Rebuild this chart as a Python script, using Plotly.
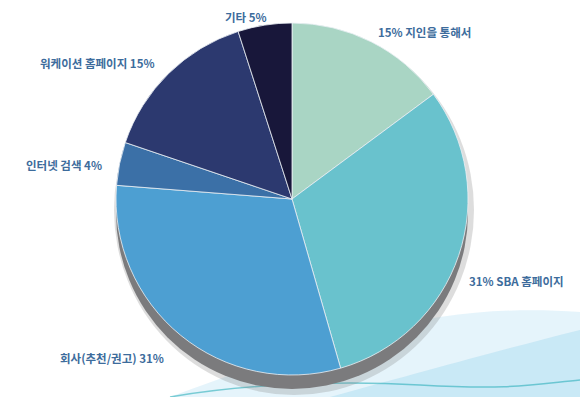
import plotly.graph_objects as go

labels = ["지인을 통해서", "SBA 홈페이지", "회사(추천/권고)", "인터넷 검색", "워케이션 홈페이지", "기타"]
values = [15, 31, 31, 4, 15, 5]
colors = ["#a9d5c4", "#69c2cd", "#4d9fd2", "#3b70a7", "#2c396f", "#18173a"]
# label text formats (percent before / after the name as in the original)
label_texts = [
    f"{values[0]}% {labels[0]}",
    f"{values[1]}% {labels[1]}",
    f"{labels[2]} {values[2]}%",
    f"{labels[3]} {values[3]}%",
    f"{labels[4]} {values[4]}%",
    f"{labels[5]} {values[5]}%",
]
label_pos = [(424, 32), (516, 281), (112, 358), (64, 165), (97, 63), (246, 17)]

W, H = 580, 397
cx, cy, R = 292, 199, 176
shadow_dy = 14

def px(x):
    return x / W

def py(y):
    return 1 - y / H

fig = go.Figure()
fig.add_trace(go.Pie(
    labels=labels,
    values=values,
    sort=False,
    direction="clockwise",
    rotation=0,
    marker=dict(colors=colors, line=dict(color="rgba(235,240,245,0.8)", width=1)),
    textinfo="none",
    hoverinfo="label+percent",
    showlegend=False,
    domain=dict(x=[px(cx - R), px(cx + R)], y=[py(cy + R), py(cy - R)]),
))

shapes = []
# decorative background waves
shapes.append(dict(
    type="path", xref="paper", yref="paper", layer="below",
    path=f"M {px(170)},{py(397)} C {px(300)},{py(350)} {px(420)},{py(300)} {px(580)},{py(312)} L {px(580)},{py(397)} Z",
    fillcolor="rgba(150,210,238,0.25)", line=dict(width=0),
))
shapes.append(dict(
    type="path", xref="paper", yref="paper", layer="below",
    path=f"M {px(330)},{py(397)} C {px(430)},{py(370)} {px(500)},{py(350)} {px(580)},{py(330)} L {px(580)},{py(397)} Z",
    fillcolor="rgba(120,200,232,0.25)", line=dict(width=0),
))
shapes.append(dict(
    type="path", xref="paper", yref="paper", layer="below",
    path=f"M {px(170)},{py(397)} C {px(240)},{py(385)} {px(330)},{py(380)} {px(420)},{py(385)} S {px(530)},{py(385)} {px(580)},{py(380)}",
    line=dict(color="rgba(30,170,180,0.55)", width=1.5),
))
# soft shadow halo
shapes.append(dict(
    type="circle", xref="paper", yref="paper", layer="below",
    x0=px(cx - R - 2), x1=px(cx + R + 6), y0=py(cy + R + shadow_dy + 6), y1=py(cy - R + 2),
    fillcolor="rgba(120,120,120,0.25)", line=dict(width=0),
))
# gray pie edge / shadow
shapes.append(dict(
    type="circle", xref="paper", yref="paper", layer="below",
    x0=px(cx - R), x1=px(cx + R), y0=py(cy + R + shadow_dy), y1=py(cy - R + shadow_dy),
    fillcolor="#7b7b7d", line=dict(width=0),
))

annotations = []
for t, (x, y) in zip(label_texts, label_pos):
    annotations.append(dict(
        x=px(x), y=py(y), xref="paper", yref="paper", text=f"<b>{t}</b>",
        showarrow=False, xanchor="center", yanchor="middle",
        font=dict(family="Noto Sans CJK KR", size=11.5, color="#3d6c9c"),
    ))

fig.update_layout(
    width=W, height=H,
    margin=dict(l=0, r=0, t=0, b=0),
    paper_bgcolor="white",
    plot_bgcolor="white",
    shapes=shapes,
    annotations=annotations,
)

fig.write_html(
    "out.html",
    config={"displayModeBar": False},
    post_script="document.body.style.margin='0';document.body.style.padding='0';",
)
